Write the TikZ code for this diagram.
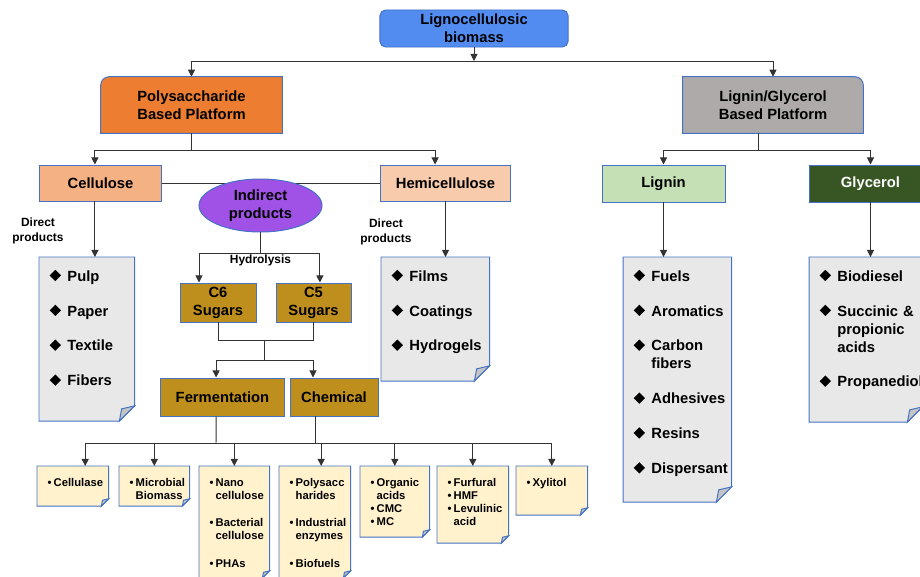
\documentclass[tikz,border=0pt]{standalone}
\usepackage{fontspec}
\setmainfont{Liberation Sans}
\usepackage{graphicx}
\usetikzlibrary{arrows.meta,shapes.geometric,backgrounds}

\definecolor{edgeblue}{HTML}{4472C4}
\definecolor{bioblue}{HTML}{528CF0}
\definecolor{polyorange}{HTML}{ED7D31}
\definecolor{lgpgray}{HTML}{AEAAAA}
\definecolor{cellorange}{HTML}{F4B183}
\definecolor{hemiorange}{HTML}{F8CBAD}
\definecolor{indpurple}{HTML}{A052E6}
\definecolor{liggreen}{HTML}{C5E0B4}
\definecolor{glygreen}{HTML}{375623}
\definecolor{sugargold}{HTML}{BF8F1E}
\definecolor{docgray}{HTML}{E8E8E8}
\definecolor{docyellow}{HTML}{FFF2CC}
\definecolor{foldgray}{HTML}{C4C4C4}
\definecolor{linegray}{HTML}{333333}

\newcommand{\dia}{\rotatebox{45}{\rule{5.7pt}{5.7pt}}}
\newcommand{\bul}{•}
\newcommand{\doclist}[1]{\begin{tabular}{@{\hspace{0.26cm}}l@{\hspace{0.16cm}}l@{}}#1\end{tabular}}
\newcommand{\smalllist}[1]{\begin{tabular}{@{\hspace{0.26cm}}l@{\hspace{1.5pt}}l@{}}#1\end{tabular}}
% frame with a folded corner, drawn round a list node
\newcommand{\docframe}[4]{%
  \filldraw[fill=#3,draw=edgeblue,line width=0.7pt] (#1.north west) -- (#1.north east)
    -- ([yshift={-(#2)+(#4)}]#1.north east) -- ([xshift=-#4,yshift=-#2]#1.north east)
    -- ([yshift=-#2]#1.north west) -- cycle;
  \filldraw[fill=foldgray,draw=edgeblue,line width=0.7pt] ([yshift={-(#2)+(#4)}]#1.north east)
    -- ([xshift=-#4,yshift=-#2]#1.north east)
    -- ([xshift={-0.85*(#4)},yshift={-(#2)+0.8*(#4)}]#1.north east) -- cycle;}

\tikzset{
  box/.style={draw=edgeblue, line width=0.7pt, font=\fontsize{10.5}{12.8}\selectfont\bfseries, align=center, inner sep=1pt},
  tab/.style={font=\fontsize{10.5}{12.8}\selectfont\bfseries, align=center, inner sep=1pt, minimum height=1.4cm},
  sugar/.style={box, fill=sugargold},
  arr/.style={draw=linegray, line width=0.7pt, -{Triangle[width=5pt,length=5pt]}},
  link/.style={draw=linegray, line width=0.7pt},
  doc/.style={anchor=north west, inner xsep=0pt, inner ysep=8pt, align=left, font=\fontsize{10.5}{12.8}\selectfont\bfseries},
  smalldoc/.style={doc, inner ysep=7.8pt, font=\fontsize{8}{9.2}\selectfont\bfseries},
  note/.style={font=\fontsize{8.5}{11}\selectfont\bfseries, align=center, inner sep=1pt}
}

\begin{document}
\begin{tikzpicture}[x=0.025cm, y=-0.025cm]
\useasboundingbox (0,0) rectangle (920,577);
\clip (0,0) rectangle (920,577);

% platforms
\node[box, fill=bioblue, rounded corners=4pt, minimum width=4.7cm, minimum height=0.925cm] (bio) at (474,28.5) {Lignocellulosic\\biomass};
\node[tab, minimum width=4.525cm] (poly) at (191.5,105) {Polysaccharide\\Based Platform};
\node[tab, minimum width=4.5cm] (lgp) at (773,105) {Lignin/Glycerol\\Based Platform};

\node[box, fill=cellorange, minimum width=3.025cm, minimum height=0.9cm] (cell) at (100.5,183) {Cellulose};
\node[box, fill=hemiorange, minimum width=3.225cm, minimum height=0.9cm] (hemi) at (445.5,183) {Hemicellulose};
\draw[link] (cell) -- (hemi);
\node[box, ellipse, fill=indpurple, minimum width=3.075cm, minimum height=1.325cm] (ind) at (260.5,205.5) {Indirect\\products};
\node[box, fill=liggreen, minimum width=3.075cm, minimum height=0.925cm] (lig) at (663.5,183.5) {Lignin};
\node[box, fill=glygreen, text=white, minimum width=3.075cm, minimum height=0.925cm] (gly) at (870.5,183.5) {Glycerol};

\node[note] (cdir) at (38,231) {Direct\\products};
\node[note] (hdir) at (386,232) {Direct\\products};

% sugars
\node[sugar, minimum width=1.9cm, minimum height=0.975cm] (c6) at (218,302.5) {C6\\Sugars};
\node[sugar, minimum width=1.875cm, minimum height=0.975cm] (c5) at (313.5,302.5) {C5\\Sugars};
\node[sugar, minimum width=3.075cm, minimum height=0.95cm] (ferm) at (222.5,397) {Fermentation};
\node[sugar, minimum width=2.2cm, minimum height=0.95cm] (chem) at (334,397) {Chemical};

% product lists
\node[doc, text width=2.375cm] (cdoc) at (39,257) {\doclist{\dia & Pulp\\[12pt] \dia & Paper\\[12pt] \dia & Textile\\[12pt] \dia & Fibers}};
\node[doc, text width=2.7cm] (hdoc) at (381,257) {\doclist{\dia & Films\\[12pt] \dia & Coatings\\[12pt] \dia & Hydrogels}};
\node[doc, text width=2.7cm] (ldoc) at (623,257) {\doclist{\dia & Fuels\\[12pt] \dia & Aromatics\\[12pt] \dia & Carbon\\ & fibers\\[12pt] \dia & Adhesives\\[12pt] \dia & Resins\\[12pt] \dia & Dispersant}};
\node[doc, text width=2.825cm] (gdoc) at (809,257) {\doclist{\dia & Biodiesel\\[12pt] \dia & Succinic \&\\ & propionic\\ & acids\\[12pt] \dia & Propanediol}};

\node[smalldoc, text width=1.775cm] (b1) at (37,466) {\smalllist{\bul & Cellulase}};
\node[smalldoc, text width=1.75cm] (b2) at (119,466) {\smalllist{\bul & Microbial\\ & Biomass}};
\node[smalldoc, text width=1.75cm] (b3) at (199,466) {\smalllist{\bul & Nano\\ & cellulose\\[10.5pt] \bul & Bacterial\\ & cellulose\\[10.5pt] \bul & PHAs}};
\node[smalldoc, text width=1.775cm] (b4) at (279,466) {\smalllist{\bul & Polysacc\\ & harides\\[10.5pt] \bul & Industrial\\ & enzymes\\[10.5pt] \bul & Biofuels}};
\node[smalldoc, text width=1.725cm] (b5) at (360,466) {\smalllist{\bul & Organic\\ & acids\\ \bul & CMC\\ \bul & MC}};
\node[smalldoc, text width=1.775cm] (b6) at (437,466) {\smalllist{\bul & Furfural\\ \bul & HMF\\ \bul & Levulinic\\ & acid}};
\node[smalldoc, text width=1.775cm] (b7) at (516,466) {\smalllist{\bul & Xylitol}};

\begin{scope}[on background layer]
  \filldraw[fill=polyorange, draw=edgeblue, line width=0.7pt] (poly.south west) -- ([yshift=-6pt]poly.north west)
    arc[start angle=180, end angle=90, radius=6pt] -- (poly.north east) -- (poly.south east) -- cycle;
  \filldraw[fill=lgpgray, draw=edgeblue, line width=0.7pt] (lgp.south west) -- (lgp.north west) -- ([xshift=-6pt]lgp.north east)
    arc[start angle=90, end angle=0, radius=6pt] -- (lgp.south east) -- cycle;
  \docframe{cdoc}{4.1cm}{docgray}{0.38cm}
  \docframe{hdoc}{3.1cm}{docgray}{0.38cm}
  \docframe{ldoc}{6.125cm}{docgray}{0.38cm}
  \docframe{gdoc}{4.125cm}{docgray}{0.38cm}
  \docframe{b1}{1cm}{docyellow}{0.18cm}
  \docframe{b2}{1cm}{docyellow}{0.18cm}
  \docframe{b3}{2.8cm}{docyellow}{0.18cm}
  \docframe{b4}{2.8cm}{docyellow}{0.18cm}
  \docframe{b5}{1.775cm}{docyellow}{0.18cm}
  \docframe{b6}{1.925cm}{docyellow}{0.18cm}
  \docframe{b7}{1.225cm}{docyellow}{0.18cm}
\end{scope}

% connectors
\coordinate (topbus) at (474,61);
\draw[arr] (bio) -- (topbus);
\draw[arr] (topbus) -| (poly.north);
\draw[arr] (topbus) -| (lgp.north);

\coordinate (pbus) at (191.5,150);
\draw[link] (poly) -- (pbus);
\draw[arr] (pbus) -| ([xshift=-0.14cm]cell.north);
\draw[arr] (pbus) -| ([xshift=-0.26cm]hemi.north);
\draw[arr] ([xshift=-0.14cm]cell.south) -- ([xshift=-0.14cm]cell.south |- cdoc.north);
\draw[arr] (hemi) -- (hdoc.north -| hemi);

\coordinate (lbus) at (758,150);
\draw[link] (lgp.south -| lbus) -- (lbus);
\draw[arr] (lbus) -| (lig.north);
\draw[arr] (lbus) -| (gly.north);
\draw[arr] (lig) -- (ldoc.north -| lig);
\draw[arr] (gly) -- (gdoc.north -| gly);

\coordinate (hbus) at (260.5,253);
\draw[link] (ind) -- (hbus);
\draw[arr] (hbus) -| ([xshift=-0.475cm]c6.north);
\draw[arr] (hbus) -| ([xshift=0.16cm]c5.north);
\node[note, below] (hyd) at (hbus) {Hydrolysis};

\coordinate (sbus) at (264,340);
\draw[link] (c6.south) |- (sbus);
\draw[link] (c5.south) |- (sbus);
\coordinate (fbus) at (264,360);
\draw[link] (sbus) -- (fbus);
\draw[arr] (fbus) -| ([xshift=-0.16cm]ferm.north);
\draw[arr] (fbus) -| ([xshift=-0.525cm]chem.north);

\coordinate (bbus) at (216,443);
\draw[link] ([xshift=-0.16cm]ferm.south) -- (bbus);
\draw[link] ([xshift=-0.475cm]chem.south) -- ([xshift=-0.475cm]chem.south |- bbus);
\foreach \n/\dx in {b1/0.31,b2/0,b3/0,b4/0.16,b5/0,b6/0,b7/0}
  \draw[arr] (bbus) -| ([xshift=\dx cm]\n.north);
\end{tikzpicture}
\end{document}
